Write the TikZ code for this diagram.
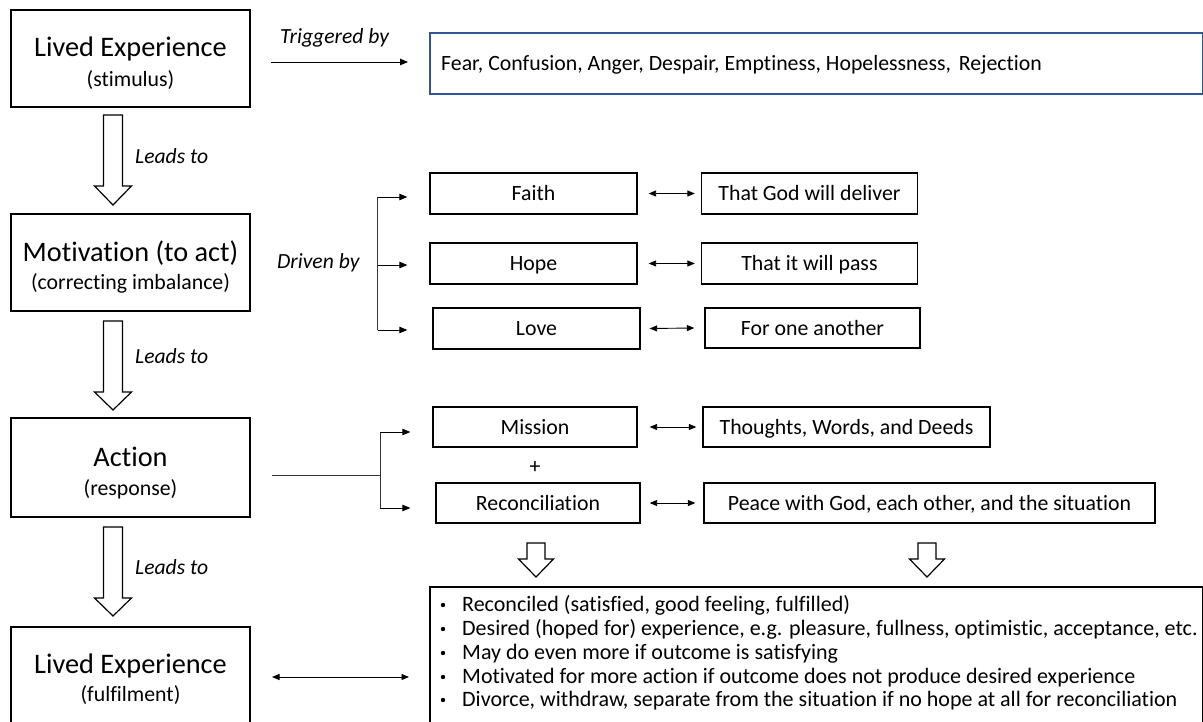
\documentclass[tikz,border=0pt]{standalone}
\usepackage{fontspec}
\setmainfont{Carlito}[Ligatures=NoCommon]
\usetikzlibrary{arrows.meta,calc}
\definecolor{fearblue}{RGB}{47,85,151}
\tikzset{
  box/.style={draw=black, line width=1.3pt, rectangle, inner sep=0pt, font=\fontsize{21.8}{26}\selectfont, text height=17pt, text depth=3pt},
  bigtxt/.style={font=\fontsize{28.3}{32}\selectfont, anchor=base, inner sep=0pt},
  smalltxt/.style={font=\fontsize{21.8}{26}\selectfont, anchor=base, inner sep=0pt},
  lbl/.style={font=\fontsize{21.6}{26}\selectfont\itshape, anchor=base west, inner sep=0pt},
  arr/.style={line width=0.9pt, -{Triangle[length=8pt,width=6.5pt]}},
  darr/.style={line width=0.9pt, {Triangle[length=7.5pt,width=6pt]}-{Triangle[length=7.5pt,width=6pt]}},
  thin/.style={line width=0.9pt, draw=black!80},
  blockarrow/.style={draw=black, line width=1.2pt, fill=white, line join=miter},
  bullettxt/.style={font=\fontsize{22}{24}\selectfont, anchor=base west, inner sep=0pt}
}
\begin{document}
\begin{tikzpicture}[x=1pt,y=-1pt]
\useasboundingbox (0,0) rectangle (1203,722);
\clip (0,0) rectangle (1203,722);
\fill[white] (0,0) rectangle (1203,722);

% ---- left column boxes
\node[box, minimum width=239pt, minimum height=97pt] (le1) at (130.5,58.5) {};
\node[bigtxt] (le1a) at (130.5,57) {Lived Experience};
\node[smalltxt] (le1b) at (130.5,87) {(stimulus)};

\node[box, minimum width=239pt, minimum height=97pt] (mot) at (130.5,262.5) {};
\node[bigtxt] (mota) at (130.5,262) {Motivation (to act)};
\node[smalltxt] (motb) at (130.5,290) {(correcting imbalance)};

\node[box, minimum width=239pt, minimum height=99pt] (act) at (130.5,467.5) {};
\node[bigtxt] (acta) at (130.5,466) {Action};
\node[smalltxt] (actb) at (130.5,495) {(response)};

\node[box, minimum width=239pt, minimum height=110pt] (le2) at (130.5,682) {};
\node[bigtxt] (le2a) at (130.5,673) {Lived Experience};
\node[smalltxt] (le2b) at (130.5,701) {(fulfilment)};

% ---- block arrows (Leads to)
\foreach \t/\b/\e in {115/186/205, 321/392/410, 527/598/616}{
  \draw[blockarrow] (103.5,\t) -- (122.5,\t) -- (122.5,\b) -- (131.5,\b) -- (113,\e) -- (94.5,\b) -- (103.5,\b) -- cycle;
}
\node[lbl] (lead1) at (135,164) {Leads to};
\node[lbl] (lead2) at (135,363) {Leads to};
\node[lbl] (lead3) at (135,574) {Leads to};

% ---- triggered by
\node[lbl] (trig) at (280,44) {Triggered by};
\coordinate (t1) at (271,62);
\coordinate (t2) at (408,62);
\draw[arr] (t1) -- (t2);
\node[draw=fearblue, line width=1.2pt, rectangle, minimum width=773pt, minimum height=61pt, inner sep=0pt] (fear) at (816.5,63.5) {};
\node[smalltxt, anchor=base west] (feartxt) at (441,71) {Fear, Confusion, Anger, Despair, Emptiness, Hopelessness,\hspace{3pt} Rejection};

% ---- driven by
\node[lbl] (drv) at (277,269) {Driven by};
\coordinate (b1) at (377.5,197);
\coordinate (b2) at (377.5,265);
\coordinate (b3) at (377.5,330);
\draw[thin] (b1) -- (b3);
\node[box, minimum width=207pt, minimum height=41pt] (faith) at (533.5,193.5) {Faith};
\node[box, minimum width=207pt, minimum height=41pt] (hope) at (533.5,263.5) {Hope};
\node[box, minimum width=207pt, minimum height=41pt] (love) at (536.5,328.5) {Love};
\draw[arr] (b1) -- ([xshift=-22pt]faith.west |- b1);
\draw[arr] (b2) -- ([xshift=-22pt]hope.west |- b2);
\draw[arr] (b3) -- ([xshift=-25pt]love.west |- b3);

\node[box, minimum width=216pt, minimum height=41pt] (god) at (809.5,193.5) {That God will deliver};
\node[box, minimum width=216pt, minimum height=41pt] (pass) at (809.5,263.5) {That it will pass};
\node[box, minimum width=215pt, minimum height=40pt] (one) at (812.5,328) {For one another};
\draw[darr] ([xshift=11pt]faith.east) -- ([xshift=-6pt]god.west);
\draw[darr] ([xshift=11pt]hope.east) -- ([xshift=-6pt]pass.west);
\draw[darr] ([xshift=9pt]love.east) -- ([xshift=-10pt]one.west);

% ---- action branch
\coordinate (a0) at (272,475);
\coordinate (a1) at (380,475);
\coordinate (a2) at (380,432);
\coordinate (a3) at (380,508);
\draw[thin] (a0) -- (a1);
\draw[thin] (a2) -- (a3);
\node[box, minimum width=204pt, minimum height=40pt] (mis) at (535,427) {Mission};
\node[box, minimum width=204pt, minimum height=40pt] (rec) at (538,503) {Reconciliation};
\draw[arr] (a2) -- ([xshift=-22pt]mis.west |- a2);
\draw[arr] (a3) -- ([xshift=-25pt]rec.west |- a3);
\node[smalltxt, anchor=center] (plus) at (535,468) {+};

\node[box, minimum width=287pt, minimum height=40pt] (tw) at (846.5,427) {Thoughts, Words, and Deeds};
\node[box, minimum width=451pt, minimum height=40pt] (peace) at (929.5,503) {Peace with God, each other, and the situation};
\draw[darr] ([xshift=12pt]mis.east) -- ([xshift=-6pt]tw.west);
\draw[darr] ([xshift=9pt]rec.east) -- ([xshift=-8pt]peace.west);

% ---- small block arrows
\foreach \c in {536,927}{
  \draw[blockarrow] (\c-9,543) -- (\c+9,543) -- (\c+9,559) -- (\c+17.5,559) -- (\c,577) -- (\c-17.5,559) -- (\c-9,559) -- cycle;
}

% ---- outcome box
\node[draw=black, line width=1.3pt, rectangle, minimum width=773pt, minimum height=150pt, inner sep=0pt] (out) at (816.5,662) {};
\foreach \y/\t in {611/{Reconciled (satisfied, good feeling, fulfilled)},
                   635/{Desired (hoped for) experience, e.g. pleasure, fullness, optimistic, acceptance, etc.},
                   659/{May do even more if outcome is satisfying},
                   683/{Motivated for more action if outcome does not produce desired experience},
                   706/{Divorce, withdraw, separate from the situation if no hope at all for reconciliation}}{
  \fill (443,\y-6) circle (2.2pt);
  \node[bullettxt] at (462,\y) {\t};
}
\coordinate (d1) at (272,677);
\coordinate (d2) at (409,677);
\draw[darr] (d1) -- (d2);
\end{tikzpicture}
\end{document}
